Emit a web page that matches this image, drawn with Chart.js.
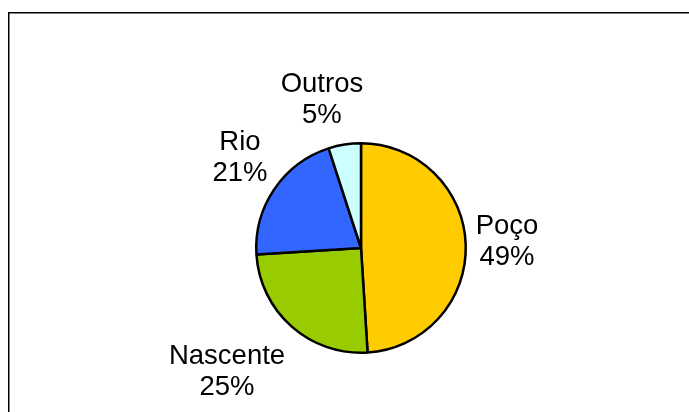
<!DOCTYPE html>
<html>
<head>
<meta charset="utf-8">
<script src="https://cdn.jsdelivr.net/npm/chart.js@4.4.0/dist/chart.umd.min.js"></script>
<style>
  html, body { margin: 0; padding: 0; background: #fff; }
  #wrap { width: 689px; height: 412px; position: relative; }
</style>
</head>
<body>
<div id="wrap"><canvas id="pieChart" width="689" height="412"></canvas></div>
<script>
// water source shares (%)
const sources = ['Poço', 'Nascente', 'Rio', 'Outros'];
const shares = [49, 25, 21, 5];
const sliceColors = ['#FFCC00', '#99CC00', '#3366FF', '#CCFFFF'];

// small hand tweaks for where each label sits (px)
const labelNudge = [[2, -4], [-21, 18], [-5, -15], [-15, -14]];

const LABEL_FONT = '27.5px "Liberation Sans", Arial, sans-serif';
const LINE_GAP = 31;
const CAP = 20;

// outer frame around the plot
const framePlugin = {
    id: 'frame',
    beforeDraw(chart) {
        const c = chart.ctx;
        c.save();
        c.strokeStyle = '#000';
        c.lineWidth = 1.5;
        c.beginPath();
        c.moveTo(8.75, 420);
        c.lineTo(8.75, 12.75);
        c.lineTo(700, 12.75);
        c.stroke();
        c.restore();
    }
};

// category name + percent outside each slice
const outsideLabels = {
    id: 'outsideLabels',
    afterDatasetsDraw(chart) {
        const c = chart.ctx;
        const meta = chart.getDatasetMeta(0);
        const total = shares.reduce((a, b) => a + b, 0);
        c.save();
        c.font = LABEL_FONT;
        c.fillStyle = '#000';
        c.textAlign = 'center';
        c.textBaseline = 'alphabetic';
        meta.data.forEach((arc, i) => {
            const p = arc.getProps(['x', 'y', 'startAngle', 'endAngle', 'outerRadius'], true);
            const mid = (p.startAngle + p.endAngle) / 2;
            const dx = Math.cos(mid), dy = Math.sin(mid);
            const line1 = sources[i];
            const line2 = Math.round(shares[i] / total * 100) + '%';
            const w = Math.max(c.measureText(line1).width, c.measureText(line2).width);
            const h = CAP + LINE_GAP;
            const r = p.outerRadius + 8;
            const cx = p.x + dx * r + dx * w / 2 + labelNudge[i][0];
            const cy = p.y + dy * r + dy * h / 2 + labelNudge[i][1];
            const top = cy - h / 2;
            c.fillText(line1, cx, top + CAP);
            c.fillText(line2, cx, top + CAP + LINE_GAP);
        });
        c.restore();
    }
};

new Chart(document.getElementById('pieChart'), {
    type: 'pie',
    data: {
        labels: sources,
        datasets: [{
            data: shares,
            backgroundColor: sliceColors,
            borderColor: '#000',
            borderWidth: 2.5
        }]
    },
    options: {
        responsive: false,
        animation: false,
        layout: { padding: { left: 255, right: 222, top: 142, bottom: 58 } },
        plugins: {
            legend: { display: false },
            tooltip: { enabled: false }
        }
    },
    plugins: [framePlugin, outsideLabels]
});
</script>
</body>
</html>
